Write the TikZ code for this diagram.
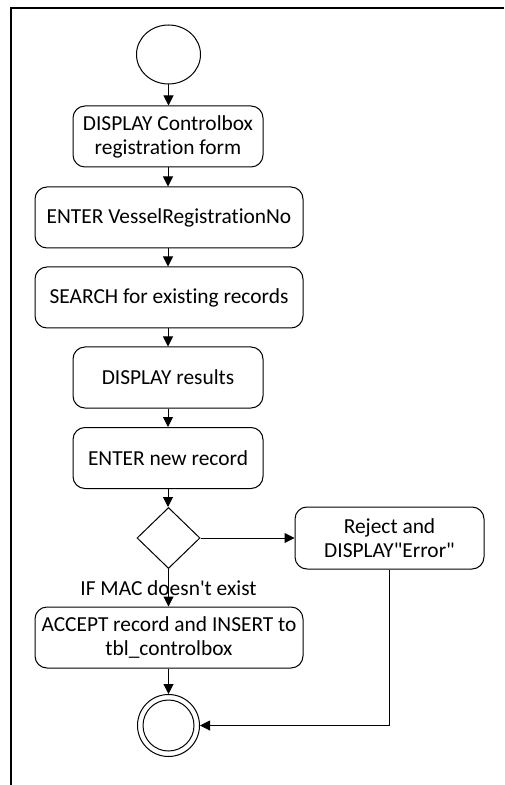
\documentclass[tikz,border=0pt]{standalone}
\usepackage{fontspec}
\setmainfont{Carlito}[Ligatures={TeXOff,NoCommon}]
\usetikzlibrary{arrows.meta,shapes.geometric}
\begin{document}
\begin{tikzpicture}[x=0.5pt,y=-0.5pt,
 act/.style={draw, rounded corners=6pt, line width=0.5pt, align=center, inner sep=0pt, font=\fontsize{10.7}{12}\selectfont},
 narrow/.style={act, minimum width=95pt, minimum height=30.5pt},
 wide/.style={act, minimum width=134pt, minimum height=30.5pt},
 flow/.style={draw, line width=0.5pt, -{Triangle[length=5pt,width=5pt]}},
 lbl/.style={font=\fontsize{10.7}{12}\selectfont, inner sep=0pt}]
\useasboundingbox (0,0) rectangle (504,785);
\draw[line width=0.8pt] (504,8) -- (11,8) -- (11,785);
\node[draw, ellipse, minimum width=32pt, minimum height=29.5pt, inner sep=0pt, line width=0.5pt] (start) at (168.5,54.5) {};
\node[narrow] (b1) at (168,136.5) {DISPLAY Controlbox\\registration form};
\node[wide] (b2) at (169,217.5) {ENTER VesselRegistrationNo};
\node[wide] (b3) at (169,297.5) {SEARCH for existing records};
\node[narrow] (b4) at (168,377.5) {DISPLAY results};
\node[narrow] (b5) at (168,458) {ENTER new record};
\node[draw, diamond, minimum width=31.5pt, minimum height=30.5pt, inner sep=0pt, line width=0.5pt] (d) at (168.5,538) {};
\node[act, minimum width=94.5pt, minimum height=31pt] (rej) at (389.5,538) {Reject and\\DISPLAY"Error"};
\node[wide] (acc) at (169,637.5) {ACCEPT record and INSERT to\\tbl\_controlbox};
\node[draw, circle, minimum size=31pt, inner sep=0pt, line width=0.5pt] (end) at (168.5,725.5) {};
\node[draw, circle, minimum size=25.5pt, inner sep=0pt, line width=0.5pt] (endin) at (end) {};
\draw[flow] (start.south) -- (start.south |- b1.north);
\draw[flow] (b1.south) -- (b1.south |- b2.north);
\draw[flow] (b1.south |- b2.south) -- (b1.south |- b3.north);
\draw[flow] (b1.south |- b3.south) -- (b1.south |- b4.north);
\draw[flow] (b4.south) -- (b4.south |- b5.north);
\draw[flow] (b5.south) -- (b5.south |- d.north);
\draw[flow] (d.east) -- (rej.west);
\draw[flow] (d.south) -- node[lbl] {IF MAC doesn't exist} (d.south |- acc.north);
\draw[flow] (d.south |- acc.south) -- (end.north);
\draw[flow] (rej.south) |- (end.east);
\end{tikzpicture}
\end{document}
